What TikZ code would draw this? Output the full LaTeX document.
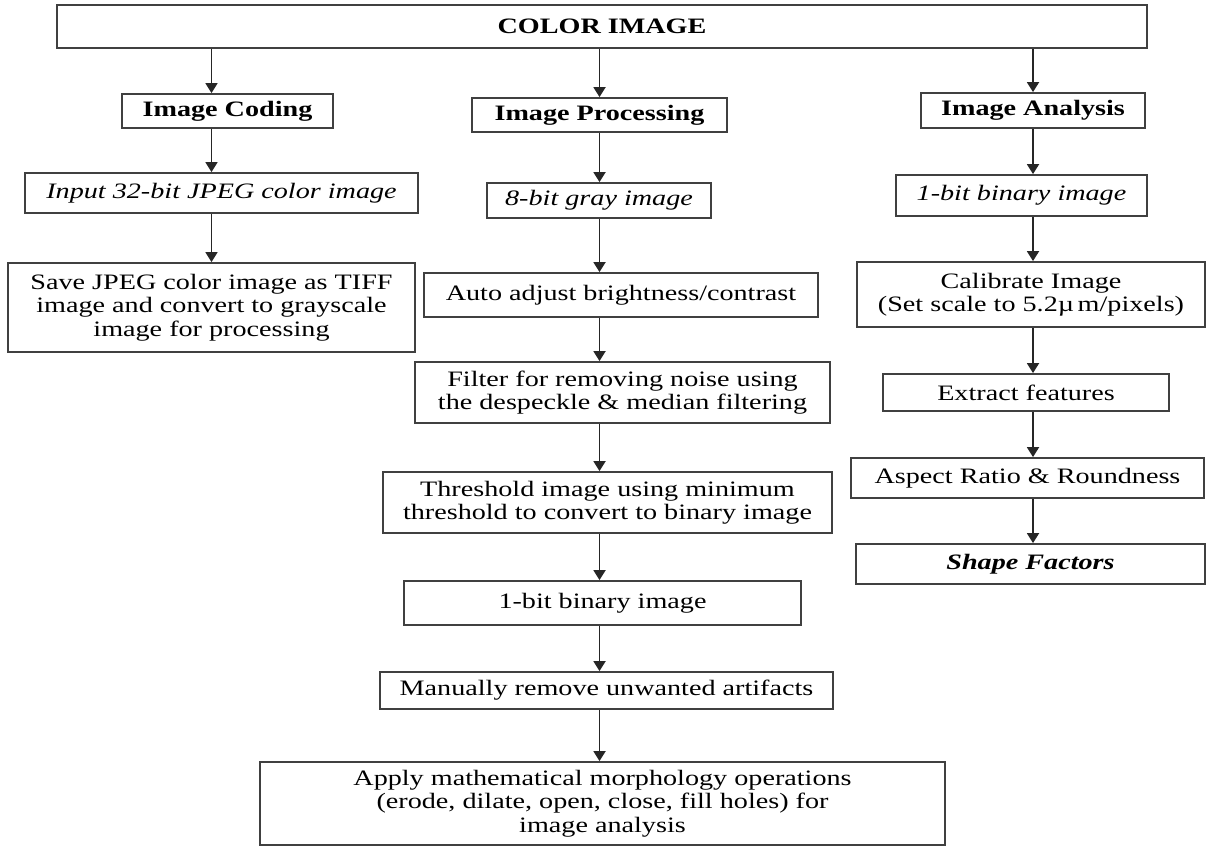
\documentclass[tikz,border=0pt]{standalone}
\usepackage{fontspec}
\setmainfont{Liberation Serif}[FakeStretch=1.28]
\usetikzlibrary{arrows.meta}

\tikzset{
  scatola/.style={draw=black!75, line width=1.8pt, rectangle, align=center,
    inner sep=2pt, font=\fontsize{22}{23.5}\selectfont},
  titolo/.style={scatola, font=\fontsize{22}{23.5}\selectfont\bfseries},
  corsivo/.style={scatola, font=\fontsize{22}{23.5}\selectfont\itshape},
  freccia/.style={line width=1.8pt, black!85, -{Triangle[length=10pt,width=12pt]}},
}

\begin{document}
\begin{tikzpicture}[x=1pt,y=-1pt]
    \useasboundingbox (0,0) rectangle (1207,846);
    % riquadro in alto
    \node[titolo, minimum width=1090, minimum height=43] (ctop) at (602,26.5) {COLOR IMAGE};
    % colonna sinistra
    \node[titolo, minimum width=211, minimum height=34] (coding) at (227.5,111) {Image Coding};
    \node[corsivo, minimum width=393, minimum height=40] (input) at (221.5,193) {Input 32-bit JPEG color image};
    \node[scatola, minimum width=407, minimum height=89] (save) at (211.5,307.5)
      {Save JPEG color image as TIFF\\image and convert to grayscale\\image for processing};
    % colonna centrale
    \node[titolo, minimum width=255, minimum height=34] (proc) at (599.5,115) {Image Processing};
    \node[corsivo, minimum width=224, minimum height=35] (gray) at (599,200.5) {8-bit gray image};
    \node[scatola, minimum width=394, minimum height=44] (auto) at (621,295) {Auto adjust brightness/contrast};
    \node[scatola, minimum width=415, minimum height=61] (filter) at (622.5,392.5)
      {Filter for removing noise using\\the despeckle \& median filtering};
    \node[scatola, minimum width=449, minimum height=61] (thresh) at (607.5,502.5)
      {Threshold image using minimum\\threshold to convert to binary image};
    \node[scatola, minimum width=397, minimum height=44] (bin) at (602.5,603) {1-bit binary image};
    \node[scatola, minimum width=453, minimum height=37] (manual) at (606.5,690.5) {Manually remove unwanted artifacts};
    \node[scatola, minimum width=685, minimum height=83] (apply) at (602.5,803.5)
      {Apply mathematical morphology operations\\(erode, dilate, open, close, fill holes) for\\image analysis};
    % colonna destra
    \node[titolo, minimum width=224, minimum height=35] (anal) at (1033,110.5) {Image Analysis};
    \node[corsivo, minimum width=251, minimum height=41] (binr) at (1021.5,195.5) {1-bit binary image};
    \node[scatola, minimum width=348, minimum height=65] (calib) at (1031,294.5)
      {Calibrate Image\\(Set scale to 5.2µ\,m/pixels)};
    \node[scatola, minimum width=286, minimum height=37] (extract) at (1026,392.5) {Extract features};
    \node[scatola, minimum width=353, minimum height=40] (aspect) at (1027.5,478) {Aspect Ratio \& Roundness};
    \node[titolo, font=\fontsize{22}{23.5}\selectfont\bfseries\itshape,
      minimum width=349, minimum height=40] (shape) at (1030.5,564) {Shape Factors};

    % frecce
    \draw[freccia] (ctop.south -| save.north) -- (coding.north -| save.north);
    \draw[freccia] (ctop.south -| proc.north) -- (proc.north);
    \draw[freccia] (ctop.south -| anal.north) -- (anal.north);
    \foreach \a/\b in {coding/input, input/save}
      \draw[freccia] (\a.south -| save.north) -- (\b.north -| save.north);
    \foreach \a/\b in {proc/gray, gray/auto, auto/filter, filter/thresh, thresh/bin, bin/manual, manual/apply}
      \draw[freccia] (\a.south -| proc.south) -- (\b.north -| proc.south);
    \foreach \a/\b in {anal/binr, binr/calib, calib/extract, extract/aspect, aspect/shape}
      \draw[freccia] (\a.south -| anal.south) -- (\b.north -| anal.south);
\end{tikzpicture}
\end{document}
